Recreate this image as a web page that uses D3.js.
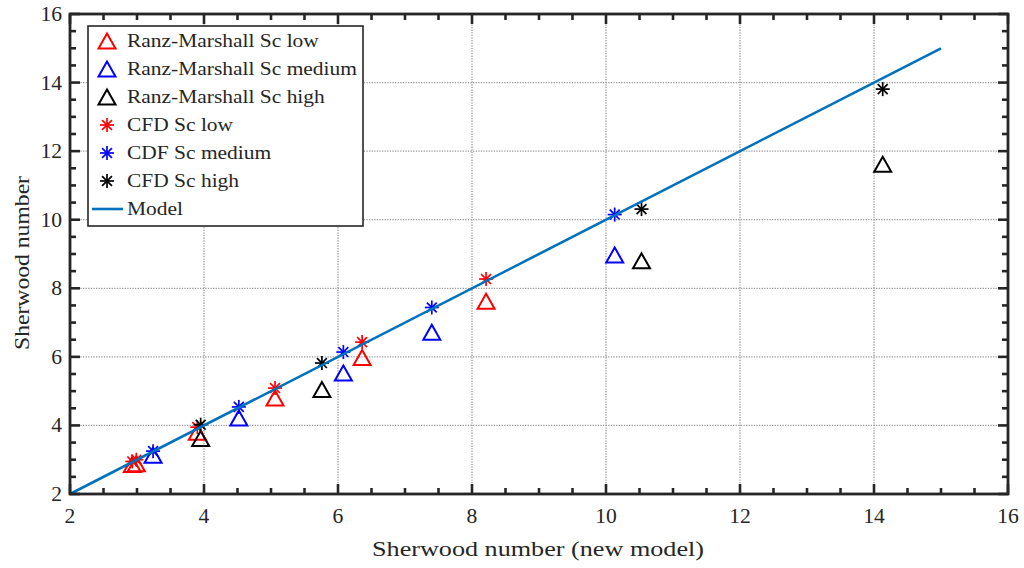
<!DOCTYPE html>
<html>
<head>
<meta charset="utf-8">
<script src="https://cdn.jsdelivr.net/npm/d3@7"></script>
<style>
  html, body { margin: 0; padding: 0; background: #fff; }
  svg { display: block; }
  text { font-family: "Liberation Serif", "Times New Roman", serif; fill: #262626; }
</style>
</head>
<body>
<svg id="chart" width="1024" height="568"></svg>
<script>
// Sherwood number: correlation / CFD results against the new model
const xTicks = [2, 4, 6, 8, 10, 12, 14, 16];
const yTicks = [2, 4, 6, 8, 10, 12, 14, 16];

// Sc low
const lowX      = [2.93, 2.99, 3.90, 5.06, 6.36, 8.21];
const rmLowY    = [2.86, 2.88, 3.80, 4.80, 5.98, 7.62];
const cfdLowY   = [2.95, 3.00, 3.95, 5.09, 6.43, 8.27];
// Sc medium
const medX      = [3.24, 4.52, 6.08, 7.40, 10.13];
const rmMedY    = [3.13, 4.22, 5.53, 6.72, 8.97];
const cfdMedY   = [3.25, 4.54, 6.14, 7.44, 10.15];
// Sc high
const highX     = [3.95, 5.76, 10.53, 14.13];
const rmHighY   = [3.62, 5.05, 8.80, 11.62];
const cfdHighY  = [4.02, 5.82, 10.31, 13.81];
// Model line
const modelX    = [2, 15];
const modelY    = [2, 15];

const legendLabels = [
  "Ranz-Marshall Sc low", "Ranz-Marshall Sc medium", "Ranz-Marshall Sc high",
  "CFD Sc low", "CDF Sc medium", "CFD Sc high", "Model"
];

const svg = d3.select("#chart");
const L = 70, R = 1008, T = 14, B = 494;
const x = d3.scaleLinear().domain([2, 16]).range([L, R]);
const y = d3.scaleLinear().domain([2, 16]).range([B, T]);

const minor = d3.range(2, 16.01, 0.5).filter(v => Math.abs(v % 2) > 1e-6);

// widen the serif glyphs a little so the text runs like a TeX roman face
function widen(sel, k) {
  sel.each(function () {
    const w = this.getComputedTextLength();
    d3.select(this).attr("textLength", w * k).attr("lengthAdjust", "spacingAndGlyphs");
  });
}

// grid
const grid = svg.append("g");
grid.selectAll("line.gx").data(xTicks.slice(1, -1)).join("line")
  .attr("x1", d => x(d)).attr("x2", d => x(d)).attr("y1", T).attr("y2", B)
  .attr("stroke", "#9a9a9a").attr("stroke-width", 1.3).attr("stroke-dasharray", "1.3,1.3");
grid.selectAll("line.gy").data(yTicks.slice(1, -1)).join("line")
  .attr("y1", d => y(d)).attr("y2", d => y(d)).attr("x1", L).attr("x2", R)
  .attr("stroke", "#9a9a9a").attr("stroke-width", 1.3).attr("stroke-dasharray", "1.3,1.3");

// markers
const tri = d3.symbol().type({
  draw(ctx) {
    const w = 8.5, h = 7.5;
    ctx.moveTo(0, -h); ctx.lineTo(w, h); ctx.lineTo(-w, h); ctx.closePath();
  }
})();
function asterisk(g, r, color) {
  const a = r * Math.SQRT1_2;
  [[0, -r, 0, r], [-r, 0, r, 0], [-a, -a, a, a], [-a, a, a, -a]].forEach(s =>
    g.append("line").attr("x1", s[0]).attr("y1", s[1]).attr("x2", s[2]).attr("y2", s[3])
      .attr("stroke", color).attr("stroke-width", 1.7));
}
function triangles(xs, ys, color) {
  svg.append("g").selectAll("path").data(xs.map((v, i) => [v, ys[i]])).join("path")
    .attr("d", tri).attr("transform", d => `translate(${x(d[0])},${y(d[1])})`)
    .attr("fill", "none").attr("stroke", color).attr("stroke-width", 2);
}
function stars(xs, ys, color) {
  svg.append("g").selectAll("g").data(xs.map((v, i) => [v, ys[i]])).join("g")
    .attr("transform", d => `translate(${x(d[0])},${y(d[1])})`)
    .each(function () { asterisk(d3.select(this), 7, color); });
}
triangles(lowX, rmLowY, "#ff0000");
triangles(medX, rmMedY, "#0000ff");
triangles(highX, rmHighY, "#000000");
stars(lowX, cfdLowY, "#ff0000");
stars(medX, cfdMedY, "#0000ff");
stars(highX, cfdHighY, "#000000");

svg.append("path")
  .datum(modelX.map((v, i) => [v, modelY[i]]))
  .attr("d", d3.line().x(d => x(d[0])).y(d => y(d[1])))
  .attr("fill", "none").attr("stroke", "#0072bd").attr("stroke-width", 2.6);

// axes with inward ticks on all four sides
const ax = svg.append("g");
const tickColor = "#262626";
function ticks(vals, len, side) {
  vals.forEach(v => {
    if (side === "b") ax.append("line").attr("x1", x(v)).attr("x2", x(v)).attr("y1", B).attr("y2", B - len);
    if (side === "t") ax.append("line").attr("x1", x(v)).attr("x2", x(v)).attr("y1", T).attr("y2", T + len);
    if (side === "l") ax.append("line").attr("y1", y(v)).attr("y2", y(v)).attr("x1", L).attr("x2", L + len);
    if (side === "r") ax.append("line").attr("y1", y(v)).attr("y2", y(v)).attr("x1", R).attr("x2", R - len);
  });
}
["b", "t", "l", "r"].forEach(s => { ticks(xTicks, 10, s); ticks(minor, 6, s); });
ax.selectAll("line").attr("stroke", tickColor).attr("stroke-width", 2.6);
ax.append("rect").attr("x", L).attr("y", T).attr("width", R - L).attr("height", B - T)
  .attr("fill", "none").attr("stroke", tickColor).attr("stroke-width", 2.8);

// tick labels
svg.append("g").selectAll("text").data(xTicks).join("text")
  .attr("x", d => x(d)).attr("y", B + 29).attr("text-anchor", "middle")
  .attr("font-size", 20).text(d => d).call(widen, 1.08);
svg.append("g").selectAll("text").data(yTicks).join("text")
  .attr("x", L - 8).attr("y", d => y(d) + 7).attr("text-anchor", "end")
  .attr("font-size", 20).text(d => d).call(widen, 1.08);

// axis titles
svg.append("text").attr("x", 538).attr("y", 556).attr("text-anchor", "middle")
  .attr("font-size", 22).attr("textLength", 332).attr("lengthAdjust", "spacingAndGlyphs")
  .text("Sherwood number (new model)");
svg.append("text").attr("transform", "translate(29,263) rotate(-90)").attr("text-anchor", "middle")
  .attr("font-size", 22).attr("textLength", 174).attr("lengthAdjust", "spacingAndGlyphs")
  .text("Sherwood number");

// legend
const lg = svg.append("g");
lg.append("rect").attr("x", 88).attr("y", 26).attr("width", 275).attr("height", 200)
  .attr("fill", "#fff").attr("stroke", "#262626").attr("stroke-width", 1.6);
const rowY = i => 41 + i * 28;
const legColors = ["#ff0000", "#0000ff", "#000000"];
legColors.forEach((c, i) => {
  lg.append("path").attr("d", tri).attr("transform", `translate(107,${rowY(i)})`)
    .attr("fill", "none").attr("stroke", c).attr("stroke-width", 2);
  const g = lg.append("g").attr("transform", `translate(107,${rowY(i + 3)})`);
  asterisk(g, 7, c);
});
lg.append("line").attr("x1", 92).attr("x2", 123).attr("y1", rowY(6)).attr("y2", rowY(6))
  .attr("stroke", "#0072bd").attr("stroke-width", 2.6);
lg.selectAll("text").data(legendLabels).join("text")
  .attr("x", 127).attr("y", (d, i) => rowY(i) + 6).attr("font-size", 19.5).text(d => d)
  .call(widen, 1.1);
</script>
</body>
</html>
